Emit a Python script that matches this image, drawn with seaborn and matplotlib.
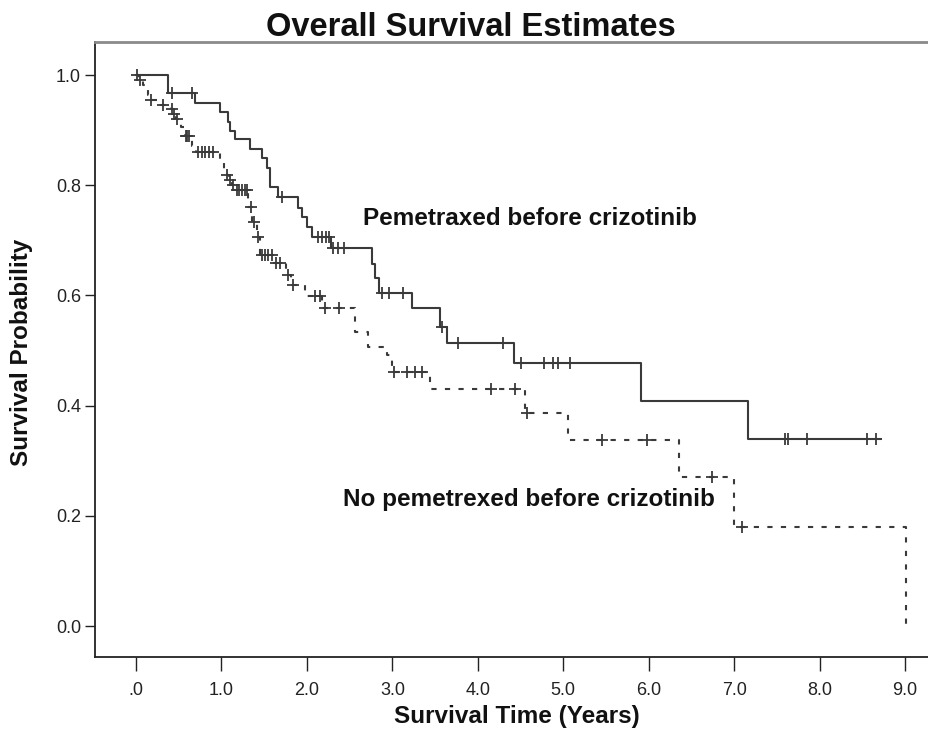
import numpy as np
import pandas as pd
import matplotlib
matplotlib.use("Agg")
import matplotlib.pyplot as plt
import seaborn as sns

# ---- data ----
pem_times = [0.00, 0.38, 0.69, 0.98, 1.08, 1.10, 1.16, 1.33, 1.47, 1.53, 1.57, 1.66,
             1.90, 1.94, 2.00, 2.06, 2.28, 2.76, 2.80, 2.84, 3.23, 3.56, 3.64, 4.42,
             5.91, 7.16, 8.72]
pem_surv = [1.000, 0.967, 0.950, 0.933, 0.915, 0.898, 0.884, 0.866, 0.849, 0.831, 0.796, 0.779,
            0.758, 0.743, 0.725, 0.707, 0.686, 0.658, 0.631, 0.604, 0.577, 0.543, 0.513, 0.477,
            0.408, 0.339, 0.339]
pem_censor = [0.42, 0.65, 1.71, 2.13, 2.18, 2.22, 2.26, 2.30, 2.36, 2.43, 2.88, 2.96, 3.13,
              3.58, 3.77, 4.30, 4.51, 4.77, 4.88, 4.94, 5.08, 7.60, 7.63, 7.85, 8.55, 8.66]

nopem_times = [0.00, 0.04, 0.08, 0.14, 0.17, 0.29, 0.41, 0.44, 0.47, 0.53, 0.57, 0.65, 0.70,
               0.98, 1.03, 1.06, 1.09, 1.12, 1.15, 1.31, 1.36, 1.41, 1.45, 1.62, 1.75, 1.81,
               1.98, 2.18, 2.56, 2.72, 2.94, 3.00, 3.44, 4.55, 5.06, 6.35, 7.00, 9.01]
nopem_surv = [1.000, 0.991, 0.982, 0.964, 0.955, 0.946, 0.938, 0.929, 0.920, 0.905, 0.890, 0.872, 0.860,
              0.846, 0.828, 0.818, 0.809, 0.800, 0.791, 0.761, 0.733, 0.706, 0.673, 0.659, 0.637, 0.619,
              0.599, 0.577, 0.534, 0.506, 0.492, 0.461, 0.430, 0.386, 0.338, 0.270, 0.180, 0.000]
nopem_censor = [0.01, 0.05, 0.18, 0.31, 0.42, 0.45, 0.48, 0.58, 0.60, 0.62, 0.72, 0.77, 0.81,
                0.85, 0.90, 1.07, 1.10, 1.13, 1.18, 1.21, 1.24, 1.27, 1.30, 1.34, 1.38, 1.43,
                1.47, 1.51, 1.55, 1.59, 1.64, 1.69, 1.78, 1.84, 2.10, 2.15, 2.21, 2.38, 3.02,
                3.17, 3.27, 3.35, 4.16, 4.43, 4.58, 5.45, 5.98, 6.74, 7.09]

x_ticks = [0, 1, 2, 3, 4, 5, 6, 7, 8, 9]
x_tick_labels = [".0", "1.0", "2.0", "3.0", "4.0", "5.0", "6.0", "7.0", "8.0", "9.0"]
y_ticks = [0.0, 0.2, 0.4, 0.6, 0.8, 1.0]
y_tick_labels = ["0.0", "0.2", "0.4", "0.6", "0.8", "1.0"]

title = "Overall Survival Estimates"
xlabel = "Survival Time (Years)"
ylabel = "Survival Probability"
label_pem = "Pemetraxed before crizotinib"
label_nopem = "No pemetrexed before crizotinib"


def censor_levels(times, surv, ctimes):
    times = np.asarray(times)
    surv = np.asarray(surv)
    idx = np.searchsorted(times, np.asarray(ctimes), side="right") - 1
    return surv[idx]


sns.set_theme(style="white")
plt.rcParams["font.family"] = ["Liberation Sans", "DejaVu Sans"]

fig = plt.figure(figsize=(9.29, 7.40), dpi=100)
W, H = 929, 740
ax = fig.add_axes([95 / W, (H - 657) / H, (929 - 95) / W + 0.01, (657 - 42) / H])

line_col = "#3a3a3a"
df_pem = pd.DataFrame({"t": pem_times, "s": pem_surv})
df_nopem = pd.DataFrame({"t": nopem_times, "s": nopem_surv})

sns.lineplot(data=df_pem, x="t", y="s", ax=ax, estimator=None, sort=False,
             drawstyle="steps-post", color=line_col, linewidth=1.5)
sns.lineplot(data=df_nopem, x="t", y="s", ax=ax, estimator=None, sort=False,
             drawstyle="steps-post", color=line_col, linewidth=1.5,
             linestyle=(0, (2.5, 4)))

df_pc = pd.DataFrame({"t": pem_censor,
                      "s": censor_levels(pem_times, pem_surv, pem_censor)})
df_nc = pd.DataFrame({"t": nopem_censor,
                      "s": censor_levels(nopem_times, nopem_surv, nopem_censor)})
sns.scatterplot(data=df_pc, x="t", y="s", ax=ax, marker="+", s=85,
                color=line_col, linewidth=1.3, zorder=3)
sns.scatterplot(data=df_nc, x="t", y="s", ax=ax, marker="+", s=85,
                color=line_col, linewidth=1.3, zorder=3)

ax.set_xlim(-0.48, 9.28 + 0.01 * W / 85.44)
ax.set_ylim(-0.056, 1.06)
ax.set_xticks(x_ticks)
ax.set_xticklabels(x_tick_labels)
ax.set_yticks(y_ticks)
ax.set_yticklabels(y_tick_labels)
ax.set_xlabel("")
ax.set_ylabel("")

tick_font = ["Liberation Sans Narrow", "Liberation Sans", "DejaVu Sans"]
for lab in ax.get_xticklabels() + ax.get_yticklabels():
    lab.set_family(tick_font)
    lab.set_fontstretch("condensed")
    lab.set_fontsize(13)
    lab.set_color("#222222")

ax.tick_params(axis="x", direction="out", length=10, width=1.0, color="#222222", pad=8,
               bottom=True)
ax.tick_params(axis="y", direction="out", length=7, width=1.0, color="#222222", pad=3,
               left=True)

for side in ["left", "bottom"]:
    ax.spines[side].set_color("#222222")
    ax.spines[side].set_linewidth(1.3)
ax.spines["top"].set_color("#8a8a8a")
ax.spines["top"].set_linewidth(2.0)
ax.spines["right"].set_visible(False)

ax.text(4.61, 0.74, label_pem, ha="center", va="center", fontsize=17.5,
        fontweight="bold", color="#111111")
ax.text(4.60, 0.229, label_nopem, ha="center", va="center", fontsize=17.5,
        fontweight="bold", color="#111111")

fig.text(471 / W, 1 - 28 / H, title, ha="center", va="center", fontsize=23.5,
         fontweight="bold", color="#111111")
fig.text(517 / W, 1 - 717 / H, xlabel, ha="center", va="center", fontsize=17.5,
         fontweight="bold", color="#111111")
fig.text(22 / W, 1 - 352 / H, ylabel, ha="center", va="center", rotation=90,
         fontsize=17.5, fontweight="bold", color="#111111")

fig.savefig("out.png", dpi=100, facecolor="white")
